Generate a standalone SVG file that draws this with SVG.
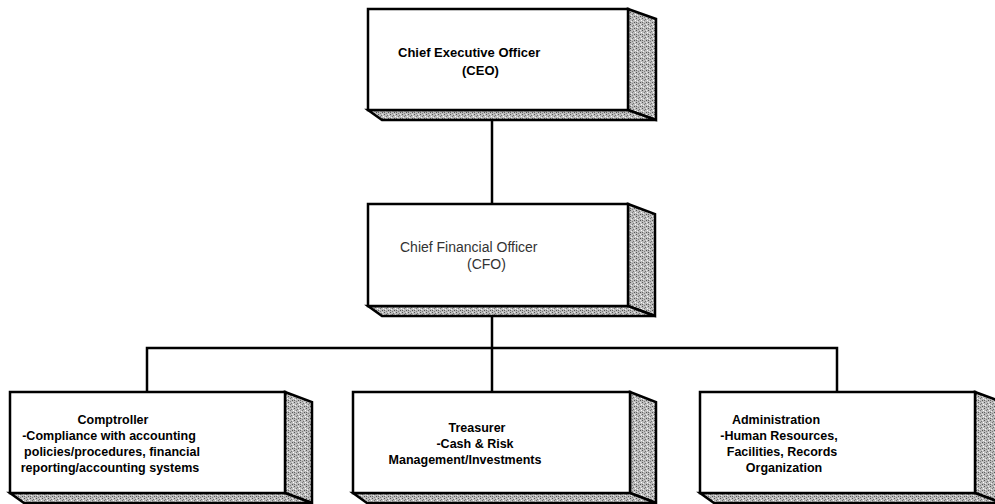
<svg xmlns="http://www.w3.org/2000/svg" width="995" height="504" viewBox="0 0 995 504">
  <defs>
    <!-- stippled grey used on the extruded faces of each box -->
    <pattern id="stipple" width="6" height="6" patternUnits="userSpaceOnUse">
      <rect width="6" height="6" fill="#bcbcbc"/>
      <rect x="0" y="0" width="1" height="1" fill="#555"/>
      <rect x="3" y="1" width="1" height="1" fill="#707070"/>
      <rect x="1" y="3" width="1" height="1" fill="#f0f0f0"/>
      <rect x="4" y="4" width="1" height="1" fill="#555"/>
      <rect x="2" y="5" width="1" height="1" fill="#808080"/>
      <rect x="5" y="2" width="1" height="1" fill="#ffffff"/>
      <rect x="4" y="0" width="1" height="1" fill="#e8e8e8"/>
      <rect x="0" y="4" width="1" height="1" fill="#666"/>
      <rect x="2" y="2" width="1" height="1" fill="#777"/>
    </pattern>
  </defs>
  <style>
    .front { fill: #ffffff; stroke: #000; stroke-width: 2.5; }
    .face { fill: url(#stipple); stroke: #000; stroke-width: 2.5; stroke-linejoin: miter; }
    .wire { fill: none; stroke: #000; stroke-width: 2.5; }
    text { font-family: "Liberation Sans", Arial, sans-serif; fill: #000; }
    .bold { font-weight: bold; font-size: 13px; }
    .cfo { font-size: 14px; fill: #333; }
    .dept { font-weight: bold; font-size: 12.5px; text-anchor: middle; }
  </style>

  <g id="connectors">
    <line class="wire" x1="492" y1="121" x2="492" y2="204"/>
    <line class="wire" x1="492" y1="317" x2="492" y2="392"/>
    <polyline class="wire" points="147,392 147,348 837,348 837,392"/>
  </g>

  <g id="ceo">
    <polygon class="face" points="628,9 656,19 656,120 628,110"/>
    <polygon class="face" points="368,110 628,110 656,120 382,120"/>
    <rect class="front" x="368" y="9" width="260" height="101"/>
    <text class="bold" x="398" y="57">Chief Executive Officer</text>
    <text class="bold" x="462" y="75">(CEO)</text>
  </g>

  <g id="cfo">
    <polygon class="face" points="628,204 655,214 655,316 628,306"/>
    <polygon class="face" points="368,306 628,306 655,316 382,316"/>
    <rect class="front" x="368" y="204" width="260" height="102"/>
    <text class="cfo" x="400" y="252">Chief Financial Officer</text>
    <text class="cfo" x="467" y="269">(CFO)</text>
  </g>

  <g id="comptroller">
    <polygon class="face" points="285,392 312,402 312,503 285,493"/>
    <polygon class="face" points="10,493 285,493 312,503 24,503"/>
    <rect class="front" x="10" y="392" width="275" height="101"/>
    <text class="dept" x="113" y="424">Comptroller</text>
    <text class="dept" x="109" y="440">-Compliance with accounting</text>
    <text class="dept" x="112" y="456">policies/procedures, financial</text>
    <text class="dept" x="110" y="472">reporting/accounting systems</text>
  </g>

  <g id="treasurer">
    <polygon class="face" points="630,392 656,402 656,503 630,493"/>
    <polygon class="face" points="353,493 630,493 656,503 367,503"/>
    <rect class="front" x="353" y="392" width="277" height="101"/>
    <text class="dept" x="477" y="432">Treasurer</text>
    <text class="dept" x="475" y="448">-Cash &amp; Risk</text>
    <text class="dept" x="465" y="464">Management/Investments</text>
  </g>

  <g id="administration">
    <polygon class="face" points="975,392 1002,402 1002,503 975,493"/>
    <polygon class="face" points="700,493 975,493 1002,503 714,503"/>
    <rect class="front" x="700" y="392" width="275" height="101"/>
    <text class="dept" x="776" y="424">Administration</text>
    <text class="dept" x="779" y="440">-Human Resources,</text>
    <text class="dept" x="782" y="456">Facilities, Records</text>
    <text class="dept" x="784" y="472">Organization</text>
  </g>
</svg>
